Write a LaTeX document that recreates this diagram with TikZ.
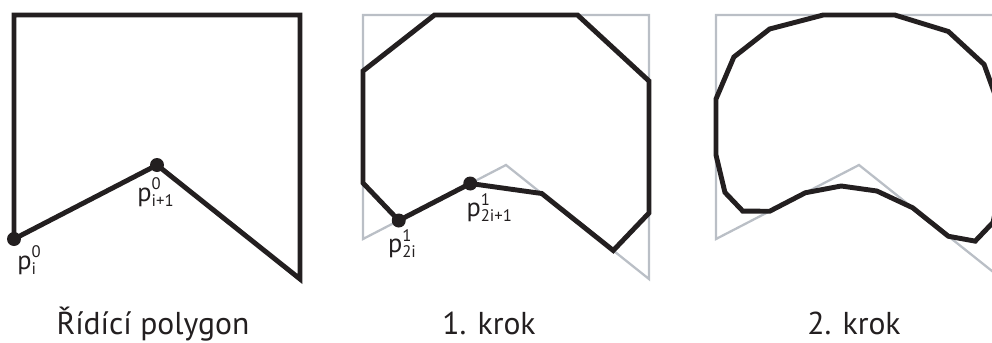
\documentclass[tikz,border=0pt]{standalone}
\usepackage{fontspec}
\setmainfont{PT Sans}
\usetikzlibrary{calc}

\definecolor{ink}{RGB}{35,31,32}
\definecolor{ctrlgrey}{RGB}{186,191,198}

\newcommand{\pl}[2]{p\rlap{\raisebox{6.5pt}{\fontsize{9.5}{11}\selectfont #1}}\raisebox{-3pt}{\fontsize{9.5}{11}\selectfont #2}}
% one corner cutting step: #1 old prefix, #2 new prefix, #3 number of old points
\newcommand{\chaikin}[3]{%
  \foreach \i in {1,...,#3} {
    \pgfmathtruncatemacro{\j}{mod(\i,#3)+1}
    \pgfmathtruncatemacro{\k}{2*\i-1}
    \pgfmathtruncatemacro{\l}{2*\i}
    \coordinate (#2\k) at ($(#1\i)!.25!(#1\j)$);
    \coordinate (#2\l) at ($(#1\i)!.75!(#1\j)$);
  }}

\begin{document}
\begin{tikzpicture}[x=0.02cm, y=-0.02cm,
    ctrl/.style={ctrlgrey, line width=1.3pt},
    curve/.style={ink, line width=2.8pt},
    lbl/.style={ink, font=\fontsize{15}{17}\selectfont, inner sep=0pt, anchor=base west},
    caption/.style={ink, font=\fontsize{18}{21}\selectfont, inner sep=0pt, anchor=base}]
    \useasboundingbox (0,0) rectangle (992,342);
    \foreach \n/\x/\y in {1/14/239, 2/157/165, 3/300/279, 4/300/15, 5/14/15} {
        \coordinate (a\n) at (\x,\y);
        \coordinate (b\n) at (\x+349,\y);
        \coordinate (d\n) at (\x+702,\y);
    }
    \chaikin{b}{q}{5}
    \chaikin{d}{s}{5}
    \chaikin{s}{r}{10}

    \draw[curve] (a1) -- (a2) -- (a3) -- (a4) -- (a5) -- cycle;
    \fill[ink] (a1) circle (0.14cm) (a2) circle (0.14cm);
    \node[lbl] (la1) at ([shift={(3,30)}]a1) {\pl{0}{i}};
    \node[lbl] (la2) at ([shift={(-20,36)}]a2) {\pl{0}{i+1}};

    \draw[ctrl] (b1) -- (b2) -- (b3) -- (b4) -- (b5) -- cycle;
    \draw[curve] (q1) \foreach \i in {2,...,10} {-- (q\i)} -- cycle;
    \fill[ink] (q1) circle (0.14cm) (q2) circle (0.14cm);
    \node[lbl] (lq1) at ([shift={(-11,32)}]q1) {\pl{1}{2i}};
    \node[lbl] (lq2) at ([shift={(-4,33)}]q2) {\pl{1}{2i+1}};

    \draw[ctrl] (d1) -- (d2) -- (d3) -- (d4) -- (d5) -- cycle;
    \draw[curve] (r1) \foreach \i in {2,...,20} {-- (r\i)} -- cycle;

    \node[caption] (cap0) at (153,334) {Řídící polygon};
    \node[caption] (cap1) at (489,334) {1. krok};
    \node[caption] (cap2) at (854,334) {2. krok};
\end{tikzpicture}
\end{document}
